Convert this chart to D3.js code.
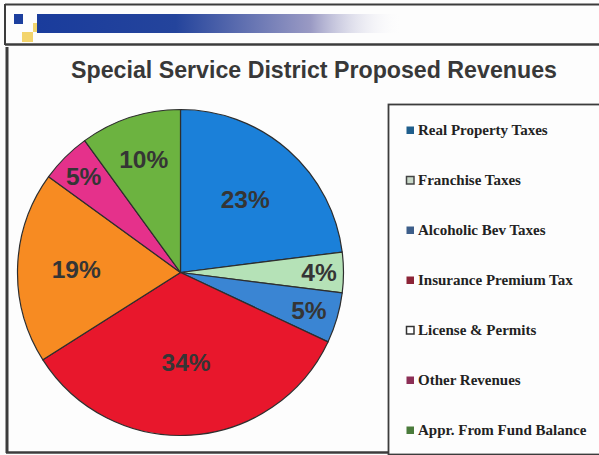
<!DOCTYPE html>
<html>
<head>
<meta charset="utf-8">
<script src="https://cdn.jsdelivr.net/npm/d3@7"></script>
<style>
  html, body { margin: 0; padding: 0; background: #fdfdfd; }
  svg { display: block; }
</style>
</head>
<body>
<svg id="chart" width="599" height="455"></svg>
<script>
// ---- data ----
const categories = ["Real Property Taxes", "Franchise Taxes", "Alcoholic Bev Taxes",
  "Insurance Premium Tax", "License & Permits", "Other Revenues", "Appr. From Fund Balance"];
// pie slices in clockwise order from 12 o'clock
const sliceNames = ["Real Property Taxes", "Franchise Taxes", "Alcoholic Bev Taxes",
  "Insurance Premium Tax", "License & Permits", "Other Revenues", "Appr. From Fund Balance"];
const sliceValues = [23, 4, 5, 34, 19, 5, 10];
const sliceLabels = ["23%", "4%", "5%", "34%", "19%", "5%", "10%"];
const title = "Special Service District Proposed Revenues";

// ---- styles ----
const sliceColors = ["#1b80d9", "#b5e2b7", "#3a85d3", "#e8172c", "#f78b22", "#e5318b", "#6cb340"];
const legendColors = ["#1f5e8c", "#c9d9c9", "#3d5e8a", "#8c2437", "#ffffff", "#8c2f56", "#4a7b3b"];
const legendStroke = [null, "#444", null, null, "#333", null, null];
const labelRadius = [0.60, 0.85, 0.82, 0.55, 0.64, 0.84, 0.73];

const svg = d3.select("#chart");

// ---- frame / banner ----
const defs = svg.append("defs");
const grad = defs.append("linearGradient").attr("id", "bar");
grad.append("stop").attr("offset", "0%").attr("stop-color", "#1a3c9c");
grad.append("stop").attr("offset", "38%").attr("stop-color", "#24449c");
grad.append("stop").attr("offset", "75%").attr("stop-color", "#9a9ac4");
grad.append("stop").attr("offset", "100%").attr("stop-color", "#fdfdfd").attr("stop-opacity", 0);

svg.append("rect").attr("x", 22).attr("y", 32).attr("width", 11).attr("height", 10).attr("fill", "#f3d46c");
svg.append("rect").attr("x", 33).attr("y", 23).attr("width", 9).attr("height", 9).attr("fill", "#f1d56f");
svg.append("rect").attr("x", 42).attr("y", 14).attr("width", 8).attr("height", 9).attr("fill", "#f2da7c");
svg.append("rect").attr("x", 37).attr("y", 14).attr("width", 365).attr("height", 19).attr("fill", "url(#bar)");
svg.append("rect").attr("x", 14).attr("y", 14).attr("width", 9).attr("height", 10).attr("fill", "#1c3f9e");

const frame = svg.append("g").attr("stroke", "#3c3c3c").attr("fill", "none");
frame.append("line").attr("x1", 5).attr("x2", 599).attr("y1", 4.5).attr("y2", 4.5).attr("stroke-width", 2);
frame.append("line").attr("x1", 5).attr("x2", 5).attr("y1", 4).attr("y2", 45).attr("stroke-width", 2);
frame.append("line").attr("x1", 5).attr("x2", 599).attr("y1", 44.5).attr("y2", 44.5).attr("stroke-width", 2.5);
frame.append("line").attr("x1", 7).attr("x2", 7).attr("y1", 47).attr("y2", 453).attr("stroke-width", 3);
frame.append("line").attr("x1", 6).attr("x2", 599).attr("y1", 452.5).attr("y2", 452.5).attr("stroke-width", 2.5);

// ---- title ----
svg.append("text")
  .attr("x", 314).attr("y", 78)
  .attr("text-anchor", "middle")
  .attr("font-family", "Liberation Sans, Arial, sans-serif")
  .attr("font-weight", "bold")
  .attr("font-size", 23.2)
  .attr("fill", "#383838")
  .text(title);

// ---- pie ----
const cx = 180.5, cy = 272.5, R = 163;
const pie = d3.pie().value(d => d).sort(null);
const arcs = pie(sliceValues);
const arc = d3.arc().innerRadius(0).outerRadius(R);
const color = d3.scaleOrdinal().domain(sliceNames).range(sliceColors);

const g = svg.append("g").attr("transform", `translate(${cx},${cy})`);
g.selectAll("path.slice").data(arcs).join("path")
  .attr("class", "slice")
  .attr("d", arc)
  .attr("fill", (d, i) => color(sliceNames[i]))
  .attr("stroke", "#2e2e2e")
  .attr("stroke-width", 1.2)
  .attr("stroke-linejoin", "round");

g.selectAll("text.lbl").data(arcs).join("text")
  .attr("class", "lbl")
  .attr("transform", (d, i) => {
    const c = d3.arc().innerRadius(0).outerRadius(2 * R * labelRadius[i]).centroid(d);
    return `translate(${c[0]},${c[1]})`;
  })
  .attr("text-anchor", "middle")
  .attr("dy", "0.36em")
  .attr("font-family", "Liberation Sans, Arial, sans-serif")
  .attr("font-weight", "bold")
  .attr("font-size", 24.5)
  .attr("fill", "#353535")
  .text((d, i) => sliceLabels[i]);

// ---- legend ----
const lg = svg.append("g");
lg.append("rect").attr("x", 388.5).attr("y", 104.5).attr("width", 220).attr("height", 350)
  .attr("fill", "#fdfdfd").attr("stroke", "#3c3c3c").attr("stroke-width", 1.8);

const ly = d3.scalePoint().domain(categories).range([135, 435]);
const items = lg.selectAll("g.item").data(categories).join("g")
  .attr("class", "item")
  .attr("transform", d => `translate(406,${ly(d)})`);
items.append("rect")
  .attr("x", 0.5).attr("y", -8.5).attr("width", 7.5).attr("height", 7.5)
  .attr("fill", (d, i) => legendColors[i])
  .attr("stroke", (d, i) => legendStroke[i] || "none")
  .attr("stroke-width", 1.5);
items.append("text")
  .attr("x", 12).attr("y", 0)
  .attr("font-family", "Liberation Serif, 'Times New Roman', serif")
  .attr("font-weight", "bold")
  .attr("font-size", 15)
  .attr("fill", "#222")
  .text(d => d);
</script>
</body>
</html>
